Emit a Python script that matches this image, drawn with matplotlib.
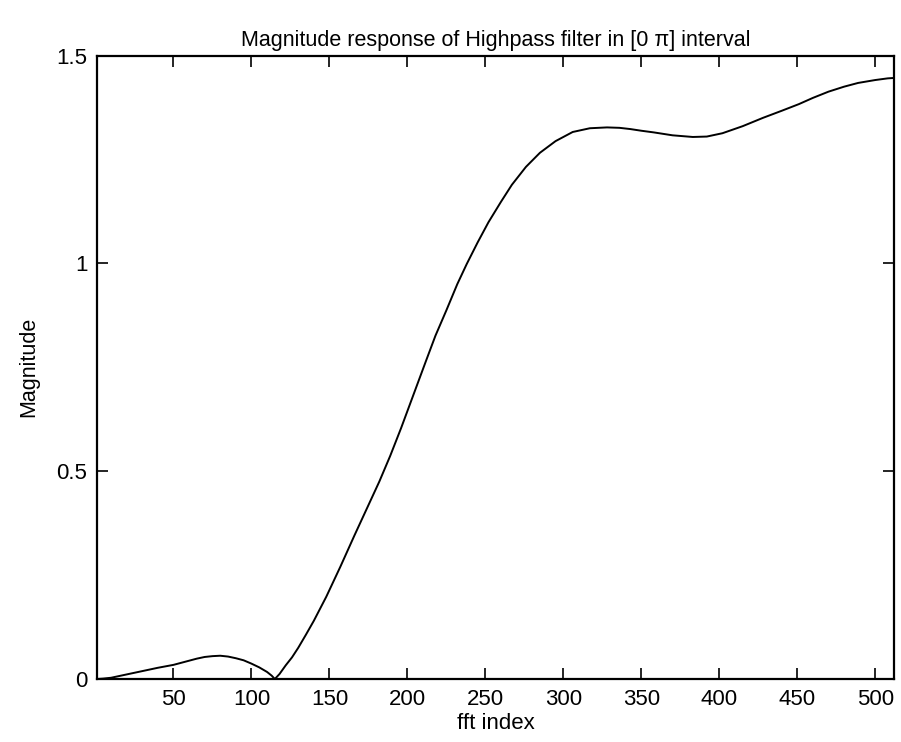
import matplotlib
matplotlib.use("Agg")
import matplotlib.pyplot as plt

# Magnitude samples of the highpass filter over the first half of the FFT
fft_index = [1, 5, 10, 15, 20, 30, 40, 50, 60, 65, 70, 75, 80, 85, 90, 95,
             100, 105, 110, 113, 115, 118, 122, 126, 130, 135, 140, 148, 157,
             166, 174, 182, 189, 196, 204, 212, 218, 225, 232, 238, 245, 252,
             260, 267, 276, 285, 295, 306, 317, 328, 336, 343, 350, 358, 370,
             383, 392, 402, 415, 428, 440, 451, 460, 470, 480, 489, 500, 508,
             512]
magnitude = [0.000, 0.001, 0.003, 0.007, 0.011, 0.019, 0.027, 0.034, 0.044,
             0.049, 0.053, 0.055, 0.056, 0.054, 0.050, 0.045, 0.037, 0.028,
             0.017, 0.008, 0.000, 0.012, 0.033, 0.052, 0.075, 0.107, 0.140,
             0.198, 0.270, 0.345, 0.410, 0.475, 0.537, 0.604, 0.685, 0.766,
             0.826, 0.887, 0.950, 0.998, 1.050, 1.099, 1.148, 1.189, 1.232,
             1.266, 1.294, 1.316, 1.325, 1.327, 1.326, 1.323, 1.319, 1.315,
             1.308, 1.304, 1.305, 1.313, 1.330, 1.350, 1.367, 1.383, 1.398,
             1.413, 1.425, 1.434, 1.441, 1.445, 1.446]

x_ticks = [50, 100, 150, 200, 250, 300, 350, 400, 450, 500]
y_ticks = [0, 0.5, 1, 1.5]
y_tick_labels = ["0", "0.5", "1", "1.5"]

plt.rcParams["font.family"] = ["Liberation Sans", "DejaVu Sans"]

fig = plt.figure(figsize=(9.01, 7.42), dpi=100)
ax = fig.add_axes([0.1077, 0.0849, 0.8845, 0.8403])

ax.plot(fft_index, magnitude, color="black", linewidth=1.4)

ax.set_xlim(1, 512)
ax.set_ylim(0, 1.5)
ax.set_xticks(x_ticks)
ax.set_xticklabels([str(t) for t in x_ticks])
ax.set_yticks(y_ticks)
ax.set_yticklabels(y_tick_labels)

ax.tick_params(direction="in", length=8, width=1.2, top=True, right=True,
               labelsize=16, pad=7, colors="black")
for spine in ax.spines.values():
    spine.set_linewidth(1.6)
    spine.set_color("black")

ax.set_title("Magnitude response of Highpass filter in [0 \u03c0] interval",
             fontsize=15.5, pad=7)
ax.set_xlabel("fft index", fontsize=16, labelpad=2)
ax.set_ylabel("Magnitude", fontsize=15.5, labelpad=12)

fig.savefig("out.png", dpi=100, facecolor="white")
